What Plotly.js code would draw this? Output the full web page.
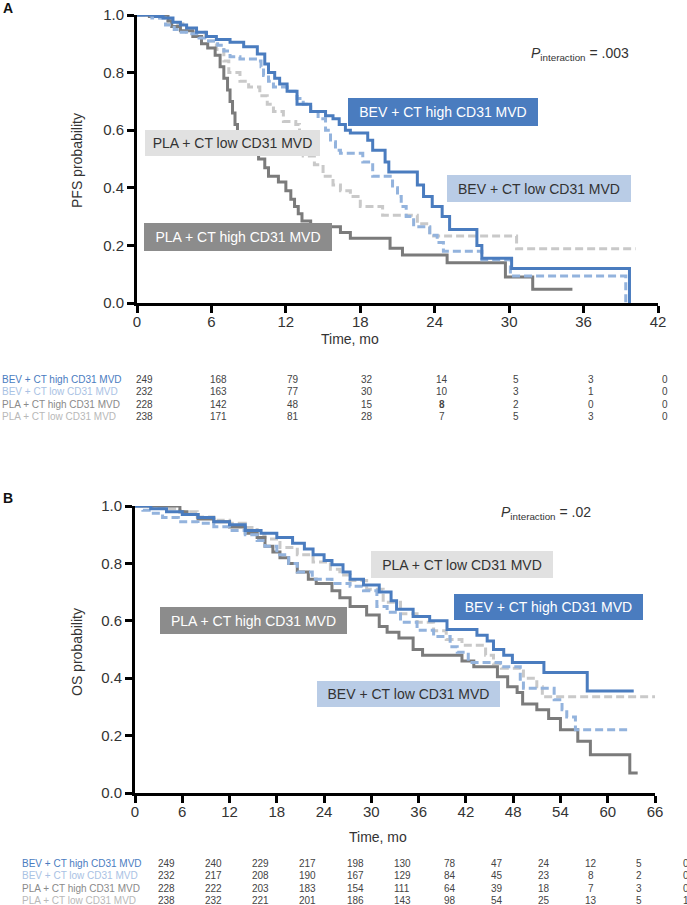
<!DOCTYPE html>
<html>
<head>
<meta charset="utf-8">
<script src="https://cdn.plot.ly/plotly-3.0.1.min.js"></script>
<style>html,body{margin:0;padding:0;background:#fff;}#chart{width:687px;height:905px;}</style>
</head>
<body>
<div id="chart"></div>
<script>
// ---------- DATA ----------
// Panel A: progression-free survival (months, probability)
const pfsBevHighT = [0,1.5,2.1,2.9,3.5,4.0,4.8,5.6,6.4,7.5,8.6,9.7,10.3,10.6,11.1,11.5,12.1,12.9,14.0,15.2,15.8,16.3,16.8,17.2,18.6,19.0,20.0,20.3,22.6,23.1,23.8,24.6,25.2,27.4,27.8,30.2,39.7];
const pfsBevHighS = [1,0.995,0.99,0.975,0.965,0.955,0.94,0.925,0.915,0.905,0.89,0.865,0.83,0.80,0.78,0.76,0.735,0.69,0.665,0.65,0.64,0.62,0.60,0.59,0.565,0.53,0.49,0.455,0.41,0.37,0.335,0.30,0.255,0.20,0.155,0.12,0];

const pfsBevLowT = [0,1.2,2.3,3.0,3.4,4.0,5.0,5.6,6.5,7.0,7.5,8.3,9.7,10.0,10.2,10.6,11.0,12.1,12.9,13.4,14.0,14.6,15.2,15.6,16.0,16.4,18.2,19.0,20.6,21.0,21.3,21.7,22.3,23.6,24.2,24.7,27.8,30.1,39.4];
const pfsBevLowS = [1,0.99,0.965,0.95,0.94,0.935,0.92,0.91,0.895,0.875,0.855,0.847,0.84,0.82,0.79,0.77,0.75,0.735,0.71,0.69,0.665,0.64,0.60,0.56,0.53,0.52,0.49,0.44,0.40,0.37,0.335,0.30,0.265,0.235,0.21,0.18,0.15,0.094,0];

const pfsPlaHighT = [0,1.0,2.5,2.8,3.5,4.5,5.2,5.7,6.3,6.7,7.0,7.3,7.5,7.7,7.9,8.1,8.5,9.2,9.8,10.3,10.6,11.4,12.0,12.4,12.7,13.0,13.3,14.0,16.4,17.2,20.4,21.4,25.0,29.7,31.9,35.1];
const pfsPlaHighS = [1,0.995,0.98,0.96,0.945,0.925,0.90,0.885,0.86,0.82,0.78,0.74,0.70,0.66,0.62,0.58,0.55,0.53,0.50,0.47,0.44,0.42,0.39,0.36,0.335,0.31,0.285,0.265,0.245,0.225,0.19,0.167,0.14,0.09,0.048,0.048];

const pfsPlaLowT = [0,1.5,2.5,4.0,5.5,6.4,7.0,7.4,8.3,9.0,9.9,10.5,11.0,11.8,12.8,13.1,13.4,14.3,15.0,15.8,16.4,17.2,18.0,19.8,22.6,23.6,30.6,40.2];
const pfsPlaLowS = [1,0.99,0.97,0.94,0.91,0.88,0.84,0.80,0.77,0.75,0.72,0.69,0.665,0.63,0.62,0.56,0.51,0.48,0.44,0.41,0.39,0.37,0.335,0.305,0.275,0.233,0.188,0.188];

// Panel B: overall survival (months, probability)
const osBevHighT = [0,2,4,6,8,10,12,14,16,18,20,21.5,22.6,24,25,26.4,27.3,29,31,32.5,33.2,35.3,37.4,39.6,43.4,44.7,45.5,46.8,47.9,51.9,57.4,63.3];
const osBevHighS = [1,0.99,0.98,0.97,0.96,0.945,0.935,0.915,0.905,0.89,0.87,0.85,0.83,0.81,0.795,0.77,0.745,0.725,0.70,0.67,0.64,0.615,0.60,0.57,0.55,0.53,0.50,0.48,0.455,0.42,0.355,0.355];

const osBevLowT = [0,1,2,3.5,5.5,8,10,12,14,15.5,16.5,18,19.5,20.6,22.5,25,27.3,29,30.7,32,33.7,35.8,37.9,40,40.9,42.3,46.4,48.9,49.3,53.2,54.2,54.8,55.9,62.8];
const osBevLowS = [1,0.985,0.975,0.96,0.945,0.94,0.928,0.915,0.90,0.88,0.86,0.83,0.80,0.77,0.745,0.73,0.72,0.705,0.65,0.63,0.595,0.567,0.545,0.51,0.49,0.455,0.44,0.39,0.365,0.325,0.29,0.265,0.22,0.22];

const osPlaHighT = [0,5.7,6.6,8,10,12,14,15.5,16.5,17.5,18.4,19.5,20.6,22,23,25,26,27.3,29.4,31,32,33.5,35.3,36.5,41.5,43,46,47.3,48.5,49.2,51,52.5,54,56.2,57.8,62.8,63.8];
const osPlaHighS = [1,0.98,0.97,0.955,0.945,0.927,0.905,0.89,0.86,0.84,0.82,0.80,0.77,0.745,0.73,0.705,0.68,0.65,0.62,0.58,0.56,0.54,0.50,0.48,0.46,0.44,0.405,0.37,0.35,0.31,0.29,0.26,0.22,0.18,0.133,0.07,0.07];

const osPlaLowT = [0,2,4,5.7,7.9,10,12,14,15.5,16.5,18.4,20.6,22.6,24.8,26,27.3,29.4,31.5,33.7,35.8,37.9,39.5,41.5,44.5,45.5,46.5,49.3,51,51.7,66];
const osPlaLowS = [1,0.995,0.99,0.98,0.962,0.95,0.94,0.925,0.90,0.885,0.855,0.83,0.805,0.78,0.76,0.74,0.71,0.665,0.625,0.595,0.565,0.535,0.515,0.48,0.45,0.435,0.40,0.37,0.335,0.335];

// Number-at-risk tables
const groupNames = ["BEV + CT high CD31 MVD","BEV + CT low CD31 MVD","PLA + CT high CD31 MVD","PLA + CT low CD31 MVD"];
const riskTimesA = [0,6,12,18,24,30,36,42];
const riskA_bevHigh = [249,168,79,32,14,5,3,0];
const riskA_bevLow  = [232,163,77,30,10,3,1,0];
const riskA_plaHigh = [228,142,48,15,8,2,0,0];
const riskA_plaLow  = [238,171,81,28,7,5,3,0];
const riskTimesB = [0,6,12,18,24,30,36,42,48,54,60,66];
const riskB_bevHigh = [249,240,229,217,198,130,78,47,24,12,5,0];
const riskB_bevLow  = [232,217,208,190,167,129,84,45,23,8,2,0];
const riskB_plaHigh = [228,222,203,183,154,111,64,39,18,7,3,0];
const riskB_plaLow  = [238,232,221,201,186,143,98,54,25,13,5,1];

const ticksA = [0,6,12,18,24,30,36,42];
const ticksB = [0,6,12,18,24,30,36,42,48,54,60,66];
const ticksY = [0,0.2,0.4,0.6,0.8,1.0];

// ---------- STYLE ----------
const W = 687, H = 905;
const fx = x => x / W;
const fy = y => 1 - y / H;
const FONT = "Liberation Sans, Arial, Helvetica, sans-serif";
const C = {
  bevHigh: "#4a7cbf", bevLow: "#93b3dd", plaHigh: "#7b7b7b", plaLow: "#c9c9c9",
  boxBevHigh: "#4a7cbf", boxBevLow: "#b9cce6", boxPlaHigh: "#8c8c8c", boxPlaLow: "#e1e1e1",
  tblBevHigh: "#4a7cbf", tblBevLow: "#a9c2e4", tblPlaHigh: "#8a8a8a", tblPlaLow: "#b8b8b8"
};
const DASH = "8px,4px";

function curve(t, s, color, dash, xa, ya) {
  return {x: t, y: s, type: "scatter", mode: "lines", xaxis: xa, yaxis: ya,
    line: {shape: "hv", color: color, width: 3, dash: dash || "solid"}, hoverinfo: "skip"};
}

const data = [
  curve(pfsPlaLowT, pfsPlaLowS, C.plaLow, DASH, "x", "y"),
  curve(pfsPlaHighT, pfsPlaHighS, C.plaHigh, null, "x", "y"),
  curve(pfsBevLowT, pfsBevLowS, C.bevLow, DASH, "x", "y"),
  curve(pfsBevHighT, pfsBevHighS, C.bevHigh, null, "x", "y"),
  curve(osPlaLowT, osPlaLowS, C.plaLow, DASH, "x2", "y2"),
  curve(osPlaHighT, osPlaHighS, C.plaHigh, null, "x2", "y2"),
  curve(osBevLowT, osBevLowS, C.bevLow, DASH, "x2", "y2"),
  curve(osBevHighT, osBevHighS, C.bevHigh, null, "x2", "y2")
];

function xAxis(domain, range, ticks, anchor) {
  return {domain: domain, range: range, tickvals: ticks, ticktext: ticks.map(String), anchor: anchor,
    showline: true, linewidth: 3, linecolor: "#000", ticks: "outside", ticklen: 7, tickwidth: 3, tickcolor: "#000",
    ticklabelstandoff: -4,
    tickfont: {family: FONT, size: 15, color: "#333"}, showgrid: false, zeroline: false, fixedrange: true};
}
function yAxis(domain, anchor) {
  return {domain: domain, range: [0, 1], tickvals: ticksY, ticktext: ticksY.map(v => v.toFixed(1)), anchor: anchor,
    showline: true, linewidth: 3, linecolor: "#000", ticks: "outside", ticklen: 7, tickwidth: 3, tickcolor: "#000",
    tickfont: {family: FONT, size: 15, color: "#333"}, showgrid: false, zeroline: false, fixedrange: true};
}

const ann = [];
function txt(text, x, y, opts) {
  ann.push(Object.assign({text: text, x: fx(x), y: fy(y), xref: "paper", yref: "paper", showarrow: false,
    xanchor: "center", yanchor: "middle", font: {family: FONT, size: 14, color: "#333"}}, opts || {}));
}
function box(text, cx, cy, w, h, bg, fg) {
  ann.push({text: text, x: fx(cx), y: fy(cy), xref: "paper", yref: "paper", showarrow: false,
    xanchor: "center", yanchor: "middle", width: w, height: h, bgcolor: bg, borderpad: 0, borderwidth: 0,
    font: {family: FONT, size: 14, color: fg}});
}

// Panel letters
txt("<b>A</b>", 8, 8, {font: {family: FONT, size: 14, color: "#111"}});
txt("<b>B</b>", 8, 498, {font: {family: FONT, size: 14, color: "#111"}});
// Axis titles
txt("PFS probability", 77, 161, {textangle: -90});
txt("Time, mo", 350, 339);
txt("OS probability", 77, 652, {textangle: -90});
txt("Time, mo", 378, 837);
// P interaction
txt("<i>P</i><sub>interaction</sub> = .003", 529, 54, {xanchor: "left"});
txt("<i>P</i><sub>interaction</sub> = .02", 499, 513, {xanchor: "left"});
// Curve labels, panel A
box(groupNames[0], 443, 112, 190, 28, C.boxBevHigh, "#fff");
box(groupNames[1], 539, 188.5, 184, 27, C.boxBevLow, "#333");
box(groupNames[3], 232.5, 143, 175, 26, C.boxPlaLow, "#333");
box(groupNames[2], 238, 237, 188, 28, C.boxPlaHigh, "#fff");
// Curve labels, panel B
box(groupNames[3], 462, 564.5, 182, 27, C.boxPlaLow, "#333");
box(groupNames[0], 548.5, 607, 189, 26, C.boxBevHigh, "#fff");
box(groupNames[2], 253.5, 620.5, 187, 27, C.boxPlaHigh, "#fff");
box(groupNames[1], 408.5, 694, 183, 26, C.boxBevLow, "#333");

// Risk tables
const tblColors = [C.tblBevHigh, C.tblBevLow, C.tblPlaHigh, C.tblPlaLow];
function riskTable(rows, times, xaxisRef, shift, labelX, rowY, boldCells) {
  rows.forEach((vals, r) => {
    txt(groupNames[r], labelX, rowY[r], {xanchor: "left", font: {family: FONT, size: 10, color: tblColors[r]}});
    vals.forEach((v, k) => {
      const bold = boldCells.some(c => c[0] === r && c[1] === k);
      ann.push({text: bold ? "<b>" + v + "</b>" : String(v), x: times[k], xref: xaxisRef, xshift: shift,
        y: fy(rowY[r]), yref: "paper", showarrow: false, xanchor: "center", yanchor: "middle",
        font: {family: FONT, size: 10, color: "#444"}});
    });
  });
}
riskTable([riskA_bevHigh, riskA_bevLow, riskA_plaHigh, riskA_plaLow], riskTimesA, "x", 7, 0, [379, 391.5, 404, 416.5], [[2, 4]]);
riskTable([riskB_bevHigh, riskB_bevLow, riskB_plaHigh, riskB_plaLow], riskTimesB, "x2", 31, 20, [863, 875.5, 888, 900.5], []);

const layout = {
  width: W, height: H, margin: {l: 0, r: 0, t: 0, b: 0}, paper_bgcolor: "#fff", plot_bgcolor: "#fff",
  showlegend: false, font: {family: FONT},
  xaxis: xAxis([fx(137), fx(658)], [0, 42], ticksA, "y"),
  yaxis: yAxis([fy(303), fy(15)], "x"),
  xaxis2: xAxis([fx(135), fx(655)], [0, 66], ticksB, "y2"),
  yaxis2: yAxis([fy(793), fy(506)], "x2"),
  annotations: ann
};

Plotly.newPlot("chart", data, layout, {staticPlot: true, displayModeBar: false});
</script>
</body>
</html>
